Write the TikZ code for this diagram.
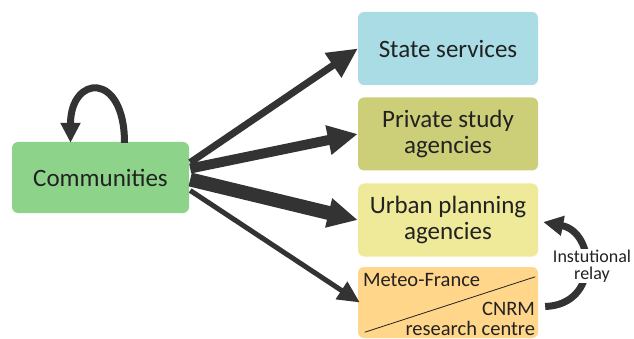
\documentclass[tikz,border=0pt]{standalone}
\usepackage{fontspec}
\setmainfont{Carlito}
\usetikzlibrary{arrows.meta}
\definecolor{arrowgray}{HTML}{333333}
\definecolor{txt}{HTML}{222222}
\definecolor{commfill}{HTML}{8DD48A}
\definecolor{statefill}{HTML}{A9DCE5}
\definecolor{privfill}{HTML}{CCCF78}
\definecolor{urbfill}{HTML}{EEEA9A}
\definecolor{metfill}{HTML}{FFD68A}
\begin{document}
\begin{tikzpicture}[x=1pt,y=-1pt,
  box/.style={rounded corners=6pt, minimum width=180pt, minimum height=73pt,
    inner sep=0pt, align=center, text=txt, font=\fontsize{25}{26}\selectfont},
  smalltext/.style={inner sep=0pt, text=txt, font=\fontsize{20.5}{22}\selectfont},
  relaytext/.style={inner sep=1pt, text=txt, fill=white, align=center, font=\fontsize{18}{17}\selectfont},
  fanarrow/.style={draw=arrowgray, line width=#1},
  bigtip/.style={-{Triangle[length=30pt,width=28pt]}},
  smalltip/.style={-{Triangle[length=22pt,width=20pt]}},
  curvearrow/.style={draw=arrowgray, line width=7pt, -{Triangle[length=20pt,width=19pt]}}
]
\path[use as bounding box] (0,0) rectangle (634,339);

\node[box, fill=commfill, minimum width=177pt, minimum height=71pt] (comm) at (100.5,177.5) {Communities};
\node[box, fill=statefill] (state) at (448,48.5) {State services};
\node[box, fill=privfill] (priv) at (448,134) {Private study\\agencies};
\node[box, fill=urbfill] (urb) at (448,220) {Urban planning\\agencies};
\node[box, fill=metfill, minimum height=71pt] (met) at (448,302.5) {};

% Meteo-France / CNRM split
\coordinate (dA) at ([shift={(7,-6)}]met.south west);
\coordinate (dB) at ([shift={(-3,10)}]met.north east);
\draw[txt, line width=0.8pt] (dA) -- (dB);
\node[smalltext, anchor=base west] (mf) at ([shift={(5,20)}]met.north west) {Meteo-France};
\node[smalltext, anchor=base east] (cnrm) at ([shift={(-3,-23)}]met.south east) {CNRM};
\node[smalltext, anchor=base east] (rc) at ([shift={(-3,-3)}]met.south east) {research centre};

% fan arrows
\draw[fanarrow=7pt, bigtip] ([shift={(1,-15)}]comm.east) -- (state.west);
\draw[fanarrow=10pt, bigtip] ([shift={(1,-9)}]comm.east) -- (priv.west);
\draw[fanarrow=14pt, bigtip] ([shift={(1,2)}]comm.east) -- (urb.west);
\draw[fanarrow=5pt, smalltip] ([shift={(1,13)}]comm.east) -- ([shift={(2,0)}]met.west);

% self loop
\coordinate (loopS) at ([shift={(24,1)}]comm.north);
\coordinate (loopE) at ([shift={(-30,1)}]comm.north);
\draw[curvearrow] (loopS) .. controls ([shift={(0,-72)}]loopS) and ([shift={(0,-68)}]loopE) .. (loopE);

% institutional relay
\coordinate (relS) at ([shift={(7,4)}]met.east);
\coordinate (relE) at ([shift={(5,2)}]urb.east);
\draw[curvearrow] (relS) .. controls ([shift={(55,-2)}]relS) and ([shift={(52,10)}]relE) .. (relE);
\node[relaytext] (relay) at (592,266) {Instutional\\relay};
\end{tikzpicture}
\end{document}
